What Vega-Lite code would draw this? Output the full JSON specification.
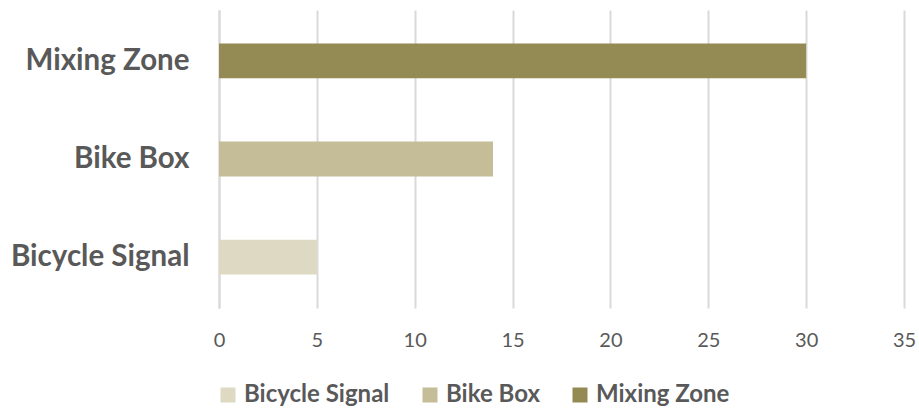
{
  "$schema": "https://vega.github.io/schema/vega-lite/v6.json",
  "width": 685,
  "height": 298,
  "autosize": {"type": "none"},
  "padding": {"left": 219, "top": 10, "right": 15, "bottom": 100},
  "background": "white",
  "data": {
    "values": [
      {"category": "Bicycle Signal", "value": 5},
      {"category": "Bike Box", "value": 14},
      {"category": "Mixing Zone", "value": 30}
    ]
  },
  "mark": {"type": "bar"},
  "encoding": {
    "y": {
      "field": "category",
      "type": "nominal",
      "sort": ["Mixing Zone", "Bike Box", "Bicycle Signal"],
      "scale": {"paddingInner": 0.645, "paddingOuter": 0.34},
      "axis": {
        "title": null,
        "ticks": false,
        "domain": true,
        "domainColor": "#D9D9D9",
        "domainWidth": 2,
        "labelFont": "Lato",
        "labelFontWeight": "bold",
        "labelFontSize": 29.5,
        "labelColor": "#595959",
        "labelPadding": 30
      }
    },
    "x": {
      "field": "value",
      "type": "quantitative",
      "scale": {"domain": [0, 35], "nice": false},
      "axis": {
        "title": null,
        "values": [0, 5, 10, 15, 20, 25, 30, 35],
        "ticks": false,
        "domain": false,
        "grid": true,
        "gridColor": "#D9D9D9",
        "gridWidth": 2,
        "labelFlush": false,
        "labelFont": "Lato",
        "labelFontSize": 20,
        "labelColor": "#595959",
        "labelPadding": 22
      }
    },
    "color": {
      "field": "category",
      "type": "nominal",
      "scale": {
        "domain": ["Bicycle Signal", "Bike Box", "Mixing Zone"],
        "range": ["#DDD9C3", "#C4BD97", "#948A54"]
      },
      "legend": {
        "title": null,
        "orient": "none",
        "direction": "horizontal",
        "legendX": -3,
        "legendY": 373,
        "symbolType": "square",
        "symbolSize": 225,
        "symbolStrokeWidth": 0,
        "labelFont": "Lato",
        "labelFontWeight": "bold",
        "labelFontSize": 24,
        "labelColor": "#595959",
        "columnPadding": 28,
        "labelOffset": 4
      }
    }
  },
  "config": {"view": {"stroke": null}}
}
